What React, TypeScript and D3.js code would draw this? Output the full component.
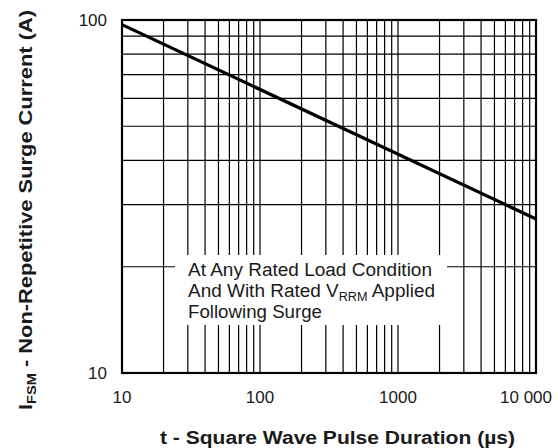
import * as d3 from "d3";

// surge current curve: pulse duration (us) vs peak current (A)
const pulseDuration = [10, 10000];
const surgeCurrent = [97, 27.3];

const xTickValues = [10, 100, 1000, 10000];
const xTickLabels = ["10", "100", "1000", "10 000"];
const yTickValues = [10, 100];
const yTickLabels = ["10", "100"];

const noteLines = ["At Any Rated Load Condition", "And With Rated V", "Following Surge"];

const width = 560;
const height = 448;
const margin = { top: 20, right: 24, bottom: 75, left: 122 };
const innerW = width - margin.left - margin.right;
const innerH = height - margin.top - margin.bottom;

const font = "Liberation Sans, Arial, Helvetica, sans-serif";

function gridValues(lo: number, hi: number) {
  const out: number[] = [];
  for (let d = lo; d < hi; d *= 10) {
    for (let k = 1; k <= 10; k++) out.push(d * k);
  }
  return Array.from(new Set(out));
}

export default function App() {
  const x = d3.scaleLog().domain([10, 10000]).range([0, innerW]);
  const y = d3.scaleLog().domain([10, 100]).range([innerH, 0]);

  const pts = pulseDuration.map((t, i) => [t, surgeCurrent[i]] as [number, number]);
  const line = d3
    .line<[number, number]>()
    .x((d) => x(d[0]))
    .y((d) => y(d[1]));

  const xGrid = gridValues(10, 10000);
  const yGrid = gridValues(10, 100);

  // note box that hides the grid behind the text
  const box = { x0: 53, x1: 325, y0: 235, y1: 305 };

  return (
    <svg
      width={width}
      height={height}
      style={{ position: "absolute", left: 0, top: 0, background: "#fff" }}
    >
      <g transform={`translate(${margin.left},${margin.top})`}>
        {xGrid.map((v) => (
          <line key={"x" + v} x1={x(v)} x2={x(v)} y1={0} y2={innerH} stroke="#000" strokeWidth={1.2} />
        ))}
        {yGrid.map((v) => (
          <line key={"y" + v} x1={0} x2={innerW} y1={y(v)} y2={y(v)} stroke="#000" strokeWidth={1.2} />
        ))}
        <rect x={box.x0} y={box.y0} width={box.x1 - box.x0} height={box.y1 - box.y0} fill="#fff" />
        <rect x={0} y={0} width={innerW} height={innerH} fill="none" stroke="#000" strokeWidth={2.2} />
        <path d={line(pts) ?? ""} fill="none" stroke="#000" strokeWidth={3.2} />

        <g fontFamily={font} fontSize={18} fill="#1a1a1a">
          <text x={66} y={256} textLength={244} lengthAdjust="spacingAndGlyphs">
            {noteLines[0]}
          </text>
          <text x={66} y={277} textLength={247} lengthAdjust="spacingAndGlyphs">
            {noteLines[1]}
            <tspan fontSize={12} dy={4}>RRM</tspan>
            <tspan dy={-4}>{"  Applied"}</tspan>
          </text>
          <text x={66} y={298} textLength={134} lengthAdjust="spacingAndGlyphs">
            {noteLines[2]}
          </text>
        </g>

        <g fontFamily={font} fontSize={17} fill="#1a1a1a">
          {xTickValues.map((v, i) => (
            <text
              key={"xt" + v}
              x={i === xTickValues.length - 1 ? x(v) + 16 : x(v)}
              y={innerH + 30}
              textAnchor={i === xTickValues.length - 1 ? "end" : "middle"}
            >
              {xTickLabels[i]}
            </text>
          ))}
          {yTickValues.map((v, i) => (
            <text key={"yt" + v} x={-15} y={y(v)} dy={6} textAnchor="end">
              {yTickLabels[i]}
            </text>
          ))}
        </g>
      </g>

      <text
        x={160}
        y={444}
        textLength={355}
        lengthAdjust="spacingAndGlyphs"
        fontFamily={font}
        fontSize={18}
        fontWeight="bold"
        fill="#1a1a1a"
      >
        t - Square Wave Pulse Duration (µs)
      </text>

      <text
        transform="translate(32,410) rotate(-90)"
        textLength={400}
        lengthAdjust="spacingAndGlyphs"
        fontFamily={font}
        fontSize={18}
        fontWeight="bold"
        fill="#1a1a1a"
      >
        I<tspan fontSize={12} dy={4}>FSM</tspan>
        <tspan dy={-4}> - Non-Repetitive Surge Current (A)</tspan>
      </text>
    </svg>
  );
}
